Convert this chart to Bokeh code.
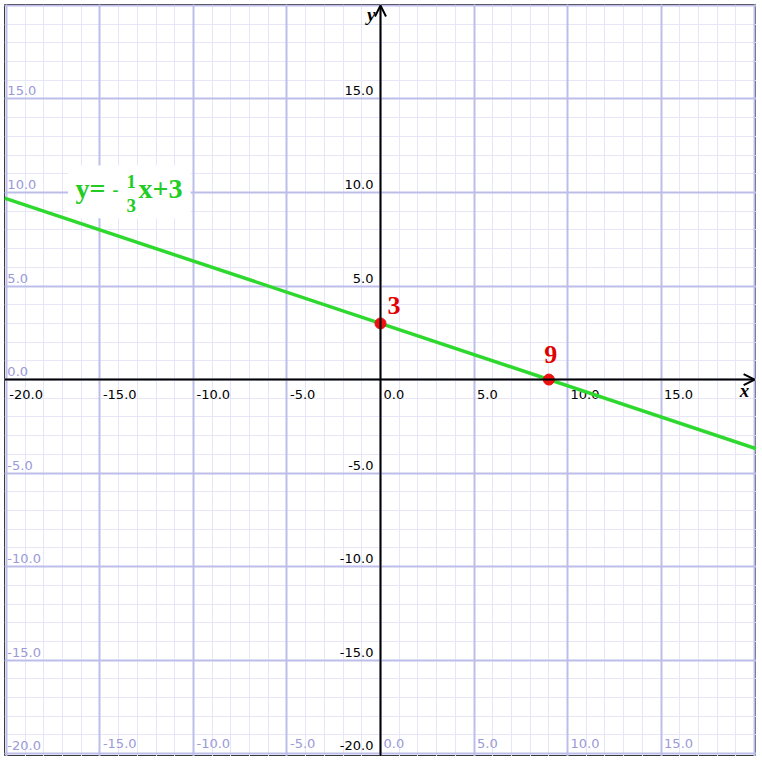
from bokeh.plotting import figure
from bokeh.models import Range1d, SingleIntervalTicker, Arrow, OpenHead, ColumnDataSource, Grid
from bokeh.core.properties import value
from bokeh.embed import file_html
from bokeh.resources import INLINE

# ---- data ----
line_x = [-20.1, 20.1]
line_y = [9.7, -3.7]
point_x = [0, 9]
point_y = [3, 0]
point_labels = ["3", "9"]
axis_ticks_x = [-20, -15, -10, -5, 0, 5, 10, 15]
axis_ticks_y = [15, 10, 5, -5, -10, -15, -20]
edge_ticks_y = [15, 10, 5, 0, -5, -10, -15, -20]
edge_ticks_x = [-15, -10, -5, 0, 5, 10, 15]
eq_parts = ["y=", "-", "1", "3", "x+3"]

def fmt(v):
    return f"{v:.1f}"

def yoff(base, fs):
    # compensate for baseline placement of text glyphs
    return base - round(0.42 * fs)

X0, X1 = -20.1, 20.1
Y0, Y1 = -20.15, 20.05

p = figure(width=752, height=752, x_range=Range1d(X0, X1), y_range=Range1d(Y0, Y1),
           output_backend="svg", toolbar_location=None, min_border=0,
           x_axis_type=None, y_axis_type=None)
p.styles = {"margin-left": "4px", "margin-top": "4px"}
p.outline_line_color = "#3a3a3a"
p.outline_line_width = 1
p.background_fill_color = "white"

MAJOR = "#bdbdea"
MINOR = "#e6e6f8"
for dim in (0, 1):
    gmin = Grid(dimension=dim, ticker=SingleIntervalTicker(interval=1, num_minor_ticks=0))
    gmin.grid_line_color = MINOR
    gmin.grid_line_width = 1
    p.add_layout(gmin)
for dim in (0, 1):
    gmaj = Grid(dimension=dim, ticker=SingleIntervalTicker(interval=5, num_minor_ticks=0))
    gmaj.grid_line_color = MAJOR
    gmaj.grid_line_width = 2
    p.add_layout(gmaj)

# white box behind equation label
p.quad(left=[-16.7], right=[-10.15], bottom=[8.62], top=[11.45],
       fill_color="white", line_color=None)

# axes with arrows
p.add_layout(Arrow(x_start=X0, y_start=0, x_end=20.0, y_end=0,
                   line_color="black", line_width=2,
                   end=OpenHead(size=11, line_color="black", line_width=2)))
p.add_layout(Arrow(x_start=0, y_start=Y0, x_end=0, y_end=20.0,
                   line_color="black", line_width=2,
                   end=OpenHead(size=11, line_color="black", line_width=2)))

TICK_FONT = value("DejaVu Sans")
BLUE = "#9a9ad8"
TFS = 13

# black tick labels along axes
p.text(x=axis_ticks_x, y=[0] * len(axis_ticks_x), text=[fmt(v) for v in axis_ticks_x],
       text_font=TICK_FONT, text_font_size=f"{TFS}px", text_color="black",
       text_align="left", text_baseline="alphabetic", x_offset=3, y_offset=yoff(20, TFS))
p.text(x=[0] * len(axis_ticks_y), y=axis_ticks_y, text=[fmt(v) for v in axis_ticks_y],
       text_font=TICK_FONT, text_font_size=f"{TFS}px", text_color="black",
       text_align="right", text_baseline="alphabetic", x_offset=-7, y_offset=yoff(-3, TFS))

# light blue labels along left and bottom edges
p.text(x=[-20] * len(edge_ticks_y), y=edge_ticks_y, text=[fmt(v) for v in edge_ticks_y],
       text_font=TICK_FONT, text_font_size=f"{TFS}px", text_color=BLUE,
       text_align="left", text_baseline="alphabetic", x_offset=1, y_offset=yoff(-3, TFS))
p.text(x=edge_ticks_x, y=[-20] * len(edge_ticks_x), text=[fmt(v) for v in edge_ticks_x],
       text_font=TICK_FONT, text_font_size=f"{TFS}px", text_color=BLUE,
       text_align="left", text_baseline="alphabetic", x_offset=3, y_offset=yoff(-5, TFS))

# axis names
p.text(x=[19.2], y=[0], text=["x"], text_font=value("Liberation Serif"),
       text_font_style="bold italic", text_font_size="19px", text_color="black",
       text_align="left", text_baseline="alphabetic", x_offset=0, y_offset=yoff(19, 19))
p.text(x=[0], y=[20.0], text=["y"], text_font=value("Liberation Serif"),
       text_font_style="bold italic", text_font_size="19px", text_color="black",
       text_align="right", text_baseline="alphabetic", x_offset=-5, y_offset=yoff(17, 19))

# the line
p.line(line_x, line_y, line_color="#2fd82f", line_width=3.5)

# points + labels
src = ColumnDataSource(dict(x=point_x, y=point_y, t=point_labels,
                            xo=[7, 2], yo=[yoff(-7, 26), yoff(-14, 26)], al=["left", "center"]))
p.scatter("x", "y", source=src, size=11, fill_color="#ee1111", line_color="#ee1111")
p.text("x", "y", text="t", source=src, text_font=value("Liberation Serif"),
       text_font_style="bold", text_font_size="26px", text_color="#e00000",
       text_align="al", text_baseline="alphabetic", x_offset="xo", y_offset="yo")

# equation label
eq_fs = [28, 18, 19, 19, 28]
eq_base = [0, -3, -11, 13, 0]
eq_src = ColumnDataSource(dict(x=[-16.3] * 5, y=[9.57] * 5, t=eq_parts,
                               fs=[f"{f}px" for f in eq_fs],
                               xo=[0, 37, 51, 51, 63],
                               yo=[yoff(b, f) for b, f in zip(eq_base, eq_fs)]))
p.text("x", "y", text="t", source=eq_src, text_font=value("Liberation Serif"),
       text_font_style="bold", text_font_size="fs", text_color="#22cc22",
       text_align="left", text_baseline="alphabetic", x_offset="xo", y_offset="yo")

open("out.html", "w").write(file_html(p, INLINE))
